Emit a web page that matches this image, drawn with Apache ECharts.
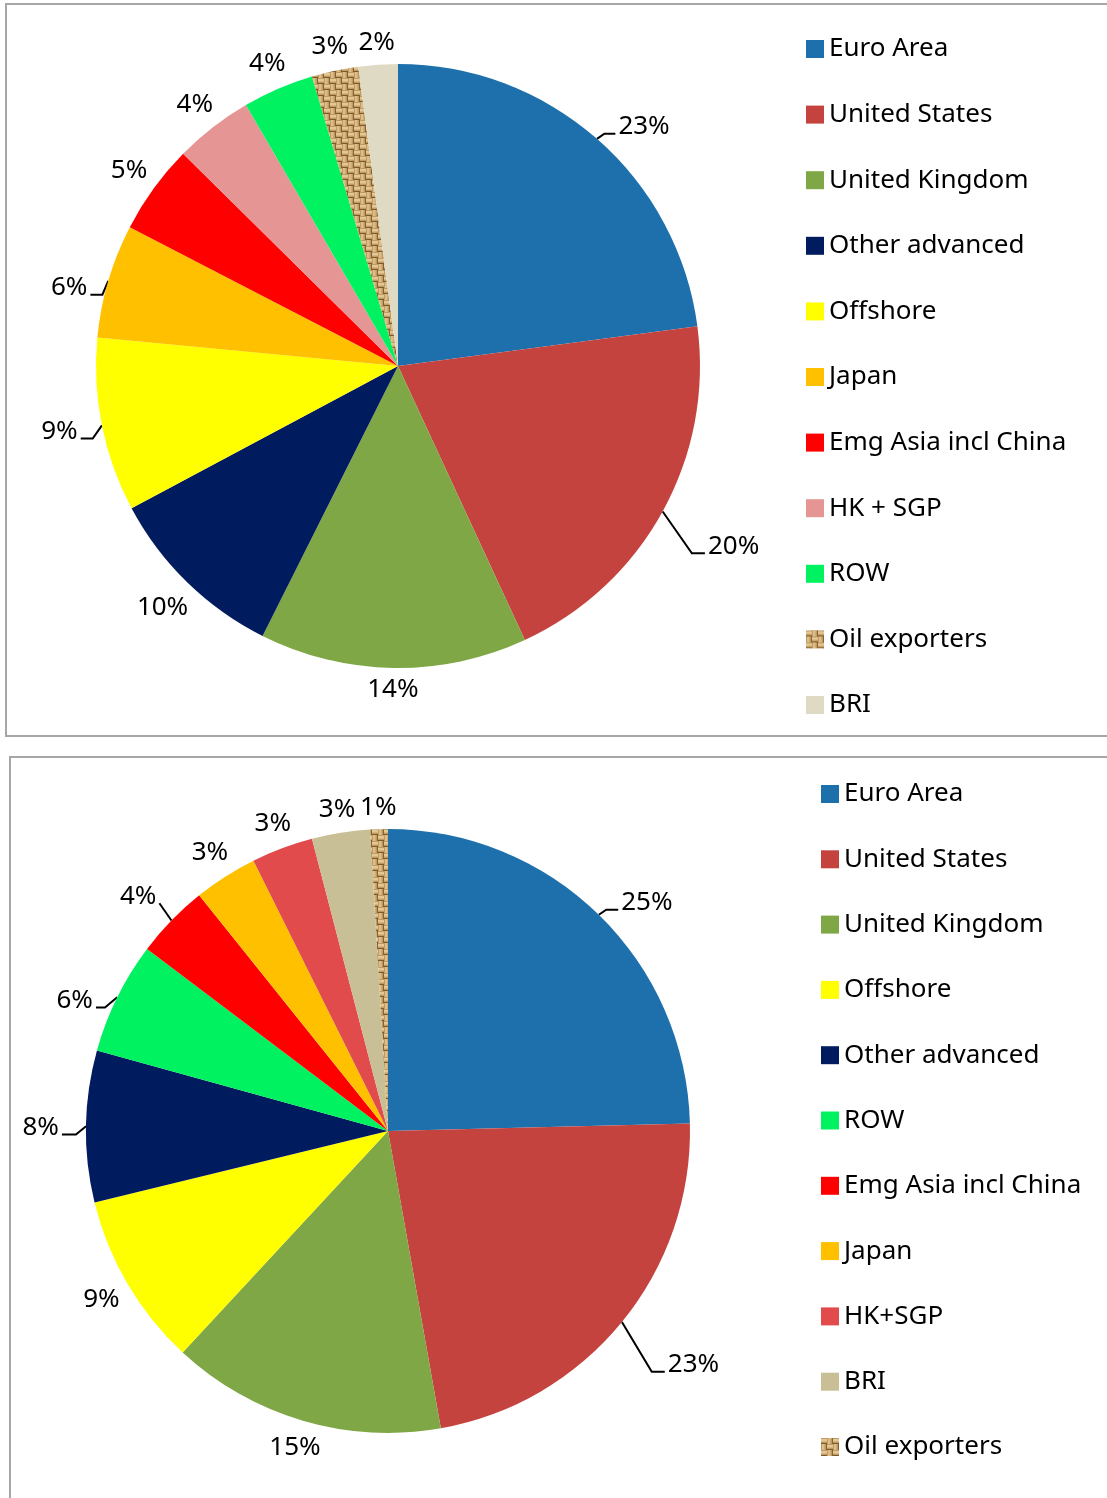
<!DOCTYPE html>
<html><head><meta charset="utf-8">
<script src="https://cdn.jsdelivr.net/npm/echarts@6/dist/echarts.min.js"></script>
<style>
html,body{margin:0;padding:0;width:1107px;height:1498px;overflow:hidden;background:#fff;}
.box{position:absolute;border:2px solid #A6A6A6;box-sizing:border-box;}
.chart{position:absolute;left:0;width:1107px;}
</style></head><body>
<div class="box" style="left:5px;top:3px;width:1200px;height:734px;"></div>
<div class="box" style="left:9px;top:756px;width:1200px;height:800px;"></div>
<div id="c1" class="chart" style="top:0;height:745px;"></div>
<div id="c2" class="chart" style="top:745px;height:753px;"></div>
<script>
// ---- data ----
const categories1 = ['Euro Area','United States','United Kingdom','Other advanced','Offshore','Japan','Emg Asia incl China','HK + SGP','ROW','Oil exporters','BRI'];
const values1 = [22.9, 20.2, 14.3, 9.8, 9.3, 6.1, 4.8, 4.2, 3.8, 2.5, 2.1];
const categories2 = ['Euro Area','United States','United Kingdom','Offshore','Other advanced','ROW','Emg Asia incl China','Japan','HK+SGP','BRI','Oil exporters'];
const values2 = [24.6, 22.6, 14.7, 9.3, 8.1, 6.0, 3.95, 3.4, 3.3, 3.1, 0.95];

// ---- styles ----
const FONT = 'Noto Sans';
const FS = 26;
function burlap(){
  const c = document.createElement('canvas'); c.width = 24; c.height = 24;
  const g = c.getContext('2d');
  g.fillStyle = '#BF9A62'; g.fillRect(0,0,24,24);
  for (let i=0;i<4;i++) for (let j=0;j<4;j++){
    const x=i*6, y=j*6;
    if ((i+j)%2===0){
      g.fillStyle='#E3C896'; g.fillRect(x,y+1,6,2);
      g.fillStyle='#D6B47E'; g.fillRect(x,y+3,6,1);
      g.fillStyle='#7C5A2B'; g.fillRect(x,y+5,6,1);
    } else {
      g.fillStyle='#DDBE88'; g.fillRect(x+1,y,2,6);
      g.fillStyle='#CFAC74'; g.fillRect(x+3,y,1,6);
      g.fillStyle='#85622F'; g.fillRect(x+5,y,1,6);
    }
  }
  return {image:c, repeat:'repeat'};
}
const PAT = burlap();
const colors1 = {'Euro Area':'#1D70AC','United States':'#C5433F','United Kingdom':'#7FA745','Other advanced':'#001B5E','Offshore':'#FFFF00','Japan':'#FFC000','Emg Asia incl China':'#FF0000','HK + SGP':'#E69595','ROW':'#00F260','Oil exporters':PAT,'BRI':'#DFDAC4'};
const colors2 = {'Euro Area':'#1D70AC','United States':'#C5433F','United Kingdom':'#7FA745','Offshore':'#FFFF00','Other advanced':'#001B5E','ROW':'#00F260','Emg Asia incl China':'#FF0000','Japan':'#FFC000','HK+SGP':'#E24B4B','BRI':'#C9BF97','Oil exporters':PAT};
// leader lines: [first segment length, its angle in degrees (y down), horizontal length]
const lines1 = {'Euro Area':[9,-35,11],'United States':[51,55,13],'Offshore':[16,125,12],'Japan':[15,113,12]};
const lines2 = {'Euro Area':[9,-35,12],'United States':[58,59,13],'Other advanced':[13,141,14],'ROW':[16,140,9],'Emg Asia incl China':[21,235,0]};

function makeLayout(cats, lines){
  return function(params){
    const pts = params.labelLinePoints; if (!pts) return {};
    const ln = lines[cats[params.dataIndex]];
    const p0 = pts[0];
    if (ln){
      const a = ln[1]*Math.PI/180, dir = Math.cos(a) >= 0 ? 1 : -1;
      const p1 = [p0[0]+ln[0]*Math.cos(a), p0[1]+ln[0]*Math.sin(a)];
      const p2 = [p1[0]+dir*ln[2], p1[1]];
      return {x:p2[0]+dir*3, y:p2[1]-7, align: dir>0?'left':'right', verticalAlign:'middle',
              labelLinePoints:[p0,p1,p2]};
    }
    const ux = pts[1][0]-p0[0], uy = pts[1][1]-p0[1];
    const L = Math.hypot(ux,uy) || 1, sx = ux/L, sy = uy/L;
    const w = params.labelRect.width, h = params.labelRect.height;
    const ext = Math.abs(sx)*w/2 + Math.abs(sy)*h/2;
    return {x: pts[1][0]+sx*ext, y: pts[1][1]+sy*ext, align:'center', verticalAlign:'middle'};
  };
}

function buildOption(cats, vals, colors, lines, center, legendLeft, legendGap){
  const data = cats.map((n,i)=>{
    const ln = lines[n];
    return {
      name:n, value:vals[i],
      itemStyle:{color:colors[n]},
      labelLine: ln ? {length:8, length2:8, lineStyle:{color:'#000', width:2}}
                    : {length:8, length2:0, lineStyle:{color:'rgba(0,0,0,0)', width:0}}
    };
  });
  return {
    animation:false,
    textStyle:{fontFamily:FONT},
    legend:{
      orient:'vertical', left:legendLeft, top:31, icon:'rect',
      itemWidth:18, itemHeight:18, itemGap:legendGap, itemTextGap:7, selectedMode:false,
      textStyle:{fontFamily:FONT, fontSize:FS, lineHeight:26, color:'#000'},
      data:cats
    },
    series:[{
      type:'pie', center:center, radius:302, startAngle:90, clockwise:true,
      avoidLabelOverlap:false, silent:true,
      itemStyle:{borderWidth:0},
      label:{show:true, position:'outside', fontFamily:FONT, fontSize:FS, color:'#000',
        formatter:p=>Math.round(p.percent)+'%'},
      labelLine:{show:true},
      labelLayout:makeLayout(cats, lines),
      data:data
    }]
  };
}

const ch1 = echarts.init(document.getElementById('c1'));
ch1.setOption(buildOption(categories1, values1, colors1, lines1, [398,366], 801, 39.6));
const ch2 = echarts.init(document.getElementById('c2'));
ch2.setOption(buildOption(categories2, values2, colors2, lines2, [388,386], 816, 39.3));
</script>
</body></html>
